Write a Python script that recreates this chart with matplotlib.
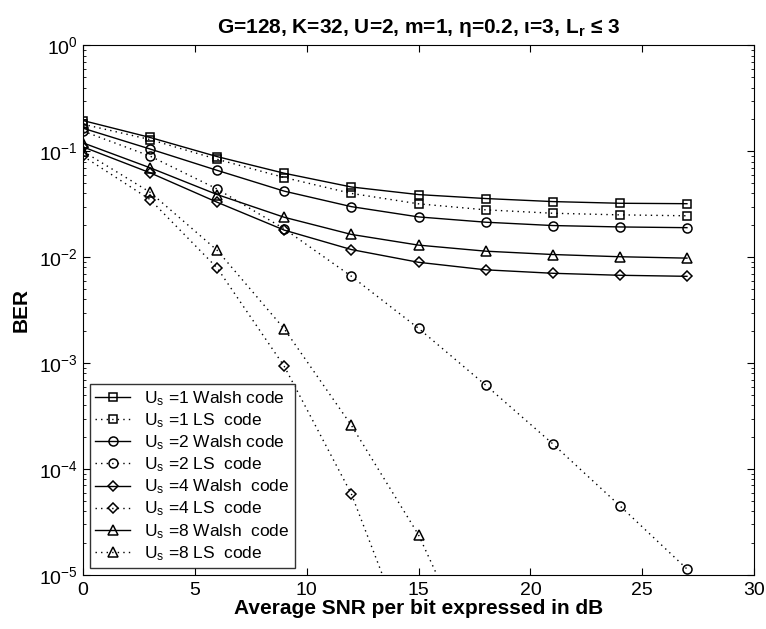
import numpy as np
import matplotlib
matplotlib.use("Agg")
import matplotlib.pyplot as plt

plt.rcParams['font.family'] = ['Liberation Sans', 'DejaVu Sans']
plt.rcParams['mathtext.fontset'] = 'custom'
plt.rcParams['mathtext.rm'] = 'Liberation Sans'
plt.rcParams['mathtext.it'] = 'Liberation Sans:italic'
plt.rcParams['mathtext.bf'] = 'Liberation Sans:bold'

# SNR grid (dB)
snr = [0, 3, 6, 9, 12, 15, 18, 21, 24, 27]

# Walsh code curves
walsh_us1 = [0.195, 0.135, 0.089, 0.062, 0.046, 0.039, 0.0358, 0.0335, 0.0323, 0.032]
walsh_us2 = [0.165, 0.105, 0.066, 0.042, 0.030, 0.024, 0.0214, 0.0199, 0.0193, 0.019]
walsh_us4 = [0.11, 0.0626, 0.033, 0.018, 0.0118, 0.00895, 0.0076, 0.00705, 0.00675, 0.0066]
walsh_us8 = [0.12, 0.0698, 0.039, 0.0238, 0.0164, 0.013, 0.0114, 0.0106, 0.0101, 0.0098]

# LS code curves
ls_us1 = [0.18, 0.129, 0.084, 0.0565, 0.040, 0.0319, 0.028, 0.026, 0.0251, 0.0246]
ls_us2 = [0.155, 0.090, 0.044, 0.0185, 0.0066, 0.00213, 0.00062, 1.73e-4, 4.5e-5, 1.14e-5]
ls_us4 = [0.09, 0.035, 0.0079, 9.3e-4, 5.8e-5, 1.3e-6]
ls_us8 = [0.10, 0.041, 0.0116, 0.0021, 2.58e-4, 2.39e-5, 1.0e-6]

fig = plt.figure(figsize=(7.66, 6.29), dpi=100)
ax = fig.add_axes([0.1084, 0.0859, 0.876, 0.842])

dot = (0, (1, 3))


def style(marker, ms):
    return dict(color='black', marker=marker, markerfacecolor='none',
                markeredgecolor='black', markersize=ms, linewidth=1,
                markeredgewidth=1.1)


ax.plot(snr, walsh_us1, '-', label=r'U$_{\rm s}$ =1 Walsh code', **style('s', 6))
ax.plot(snr, ls_us1, linestyle=dot, label=r'U$_{\rm s}$ =1 LS  code', **style('s', 6))
ax.plot(snr, walsh_us2, '-', label=r'U$_{\rm s}$ =2 Walsh code', **style('o', 6.5))
ax.plot(snr, ls_us2, linestyle=dot, label=r'U$_{\rm s}$ =2 LS  code', **style('o', 6.5))
ax.plot(snr, walsh_us4, '-', label=r'U$_{\rm s}$ =4 Walsh  code', **style('D', 5.5))
ax.plot(snr[:len(ls_us4)], ls_us4, linestyle=dot, label=r'U$_{\rm s}$ =4 LS  code',
        **style('D', 5.5))
ax.plot(snr, walsh_us8, '-', label=r'U$_{\rm s}$ =8 Walsh  code', **style('^', 7))
ax.plot(snr[:len(ls_us8)], ls_us8, linestyle=dot, label=r'U$_{\rm s}$ =8 LS  code',
        **style('^', 7))

ax.set_yscale('log')
ax.set_xlim(0, 30)
ax.set_ylim(1e-5, 1)
ax.set_xticks([0, 5, 10, 15, 20, 25, 30])
ax.tick_params(which='both', direction='in', top=True, right=True, labelsize=14)
ax.tick_params(which='major', length=5)
ax.tick_params(which='minor', length=2.5)
ax.tick_params(axis='x', pad=5)

ax.set_xlabel('Average SNR per bit expressed in dB', fontsize=15, fontweight='bold', labelpad=0)
ax.set_ylabel('BER', fontsize=15, fontweight='bold', labelpad=6)
ax.set_title('G=128, K=32, U=2, m=1, η=0.2, ι=3, L$_{\\mathbf{r}}$ ≤ 3',
             fontsize=15, fontweight='bold', pad=9)

leg = ax.legend(loc='lower left', fontsize=12.5, frameon=True, fancybox=False,
                edgecolor='black', handlelength=2.0, labelspacing=0.2,
                borderaxespad=0.4, handletextpad=0.8, borderpad=0.3)
leg.get_frame().set_linewidth(1)

fig.savefig('out.png', dpi=100)
